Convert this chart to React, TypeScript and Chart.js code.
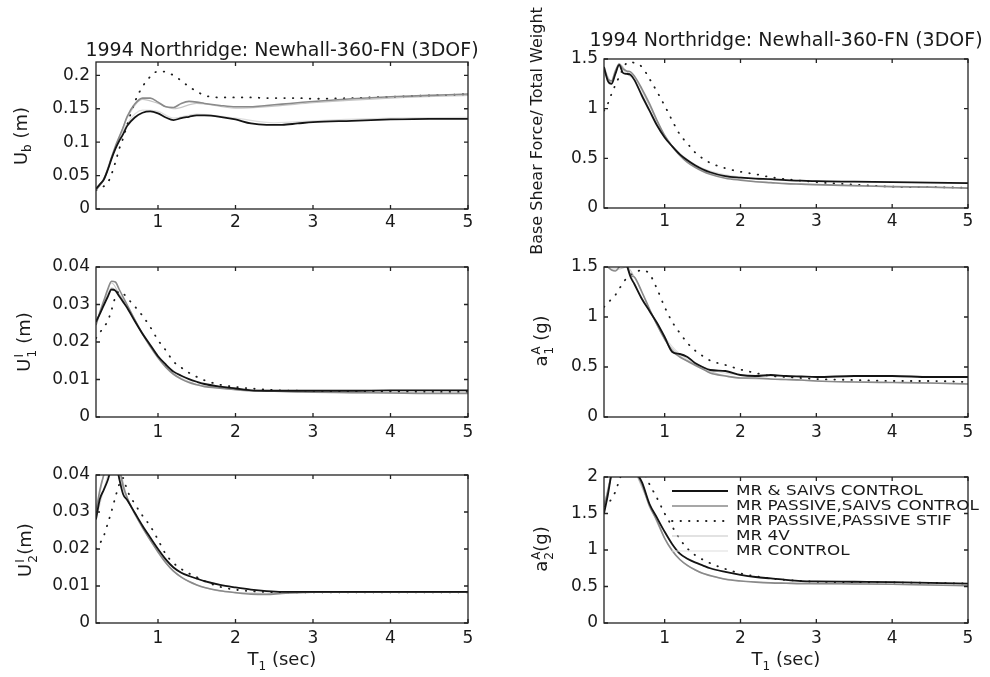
import React, { useEffect, useRef } from 'react';
import { Chart, registerables } from 'chart.js';
Chart.register(...registerables);

const FONT = "'DejaVu Sans', 'Liberation Sans', sans-serif";
const INK = '#1a1a1a';

// ---- data ----
const T = [0.2,0.25,0.3,0.35,0.4,0.45,0.5,0.55,0.6,0.7,0.8,0.9,1.0,1.1,1.2,1.3,1.4,1.5,1.6,1.8,2.0,2.2,2.4,2.6,2.8,3.0,3.5,4.0,4.5,5.0];
const T_LIGHT = [0.2,0.3,0.4,0.5,0.6,0.8,1.0,1.2,1.5,2.0,2.5,3.0,4.0,5.0];
const X_TICKS = [1, 2, 3, 4, 5];

const SERIES_LABELS = ['MR & SAIVS CONTROL', 'MR PASSIVE,SAIVS CONTROL', 'MR PASSIVE,PASSIVE STIF', 'MR 4V', 'MR CONTROL'];

// Ub (m)
const ubBlack = [0.030,0.037,0.044,0.058,0.075,0.090,0.102,0.112,0.124,0.137,0.144,0.146,0.143,0.137,0.133,0.136,0.138,0.140,0.140,0.138,0.134,0.128,0.126,0.126,0.128,0.130,0.132,0.134,0.135,0.135];
const ubGray = [0.028,0.036,0.044,0.059,0.077,0.094,0.108,0.122,0.138,0.157,0.166,0.166,0.160,0.153,0.152,0.158,0.161,0.160,0.158,0.155,0.153,0.153,0.155,0.157,0.159,0.161,0.165,0.168,0.170,0.172];
const ubDotted = [0.028,0.031,0.034,0.039,0.052,0.070,0.090,0.106,0.125,0.160,0.183,0.198,0.206,0.205,0.200,0.192,0.183,0.176,0.170,0.167,0.167,0.167,0.166,0.166,0.166,0.165,0.166,0.168,0.170,0.172];
const ub4V = [0.029,0.043,0.076,0.107,0.136,0.164,0.158,0.150,0.158,0.151,0.154,0.159,0.166,0.170];
const ubCtrl = [0.031,0.046,0.078,0.104,0.128,0.148,0.146,0.136,0.142,0.136,0.129,0.132,0.136,0.137];

// Base shear / total weight
const vbBlack = [1.42,1.28,1.25,1.35,1.44,1.36,1.35,1.34,1.29,1.13,0.98,0.83,0.71,0.62,0.54,0.48,0.43,0.39,0.36,0.32,0.305,0.295,0.29,0.28,0.275,0.27,0.265,0.26,0.255,0.25];
const vbGray = [1.40,1.30,1.28,1.38,1.45,1.40,1.38,1.37,1.33,1.20,1.05,0.88,0.73,0.62,0.53,0.46,0.41,0.37,0.34,0.30,0.28,0.265,0.255,0.245,0.24,0.235,0.225,0.215,0.21,0.20];
const vbDotted = [0.98,1.05,1.15,1.24,1.32,1.40,1.46,1.47,1.46,1.42,1.30,1.17,1.03,0.88,0.74,0.65,0.56,0.50,0.455,0.40,0.365,0.34,0.31,0.29,0.275,0.26,0.235,0.215,0.21,0.205];
const vb4V = [1.40,1.27,1.45,1.37,1.32,1.03,0.73,0.54,0.38,0.285,0.25,0.235,0.215,0.20];
const vbCtrl = [1.43,1.26,1.43,1.35,1.29,0.99,0.72,0.55,0.40,0.31,0.28,0.27,0.26,0.25];

// U1 (m)
const u1Black = [0.0254,0.0275,0.0298,0.0320,0.0340,0.0337,0.0322,0.0307,0.0292,0.0256,0.0222,0.0192,0.0162,0.0140,0.0121,0.0110,0.0101,0.0094,0.0088,0.0081,0.0076,0.0071,0.0070,0.0070,0.0070,0.0070,0.0070,0.0071,0.0071,0.0071];
const u1Gray = [0.0245,0.0280,0.0310,0.0340,0.0362,0.0360,0.0340,0.0320,0.0300,0.0260,0.0222,0.0188,0.0158,0.0133,0.0114,0.0101,0.0092,0.0086,0.0081,0.0077,0.0073,0.0070,0.0069,0.0068,0.0067,0.0066,0.0065,0.0064,0.0063,0.0063];
const u1Dotted = [0.0210,0.0225,0.0240,0.0255,0.0285,0.0320,0.0335,0.0330,0.0318,0.0295,0.0270,0.0240,0.0205,0.0178,0.0148,0.0132,0.0118,0.0107,0.0098,0.0086,0.0080,0.0076,0.0073,0.0071,0.0070,0.0069,0.0068,0.0068,0.0067,0.0067];
const u14V = [0.0248,0.0305,0.0358,0.0328,0.0298,0.0220,0.0160,0.0116,0.0087,0.0074,0.0069,0.0066,0.0064,0.0063];
const u1Ctrl = [0.0256,0.0300,0.0345,0.0325,0.0295,0.0225,0.0164,0.0123,0.0095,0.0077,0.0071,0.0071,0.0071,0.0071];

// a1 (g)
const a1Black = [1.60,1.75,1.85,1.80,1.72,1.62,1.52,1.40,1.33,1.18,1.06,0.94,0.80,0.65,0.63,0.60,0.54,0.50,0.47,0.46,0.42,0.41,0.42,0.41,0.405,0.40,0.41,0.41,0.40,0.40];
const a1Gray = [1.55,1.50,1.47,1.46,1.50,1.55,1.52,1.42,1.40,1.25,1.08,0.92,0.78,0.66,0.60,0.56,0.52,0.48,0.44,0.41,0.39,0.39,0.38,0.375,0.37,0.36,0.35,0.345,0.34,0.33];
const a1Dotted = [1.10,1.14,1.18,1.22,1.28,1.34,1.39,1.42,1.44,1.47,1.43,1.28,1.10,0.95,0.84,0.74,0.665,0.61,0.565,0.52,0.475,0.44,0.41,0.40,0.39,0.38,0.37,0.36,0.36,0.35];
const a14V = [1.55,1.48,1.48,1.50,1.40,1.08,0.78,0.61,0.48,0.39,0.375,0.36,0.345,0.33];
const a1Ctrl = [1.60,1.83,1.73,1.52,1.34,1.06,0.80,0.63,0.50,0.42,0.41,0.40,0.41,0.40];

// U2 (m)
const u2Black = [0.0280,0.0335,0.0360,0.0385,0.0420,0.0445,0.0390,0.0348,0.0333,0.0298,0.0263,0.0231,0.0200,0.0172,0.0150,0.0136,0.0127,0.0120,0.0113,0.0103,0.0096,0.0090,0.0086,0.0084,0.0084,0.0084,0.0084,0.0084,0.0084,0.0084];
const u2Gray = [0.0300,0.0360,0.0400,0.0430,0.0460,0.0460,0.0420,0.0370,0.0340,0.0296,0.0258,0.0224,0.0192,0.0163,0.0140,0.0124,0.0112,0.0103,0.0096,0.0087,0.0082,0.0078,0.0077,0.0080,0.0082,0.0083,0.0083,0.0083,0.0083,0.0083];
const u2Dotted = [0.0200,0.0215,0.0235,0.0268,0.0302,0.0340,0.0375,0.0392,0.0360,0.0322,0.0290,0.0262,0.0225,0.0186,0.0162,0.0146,0.0134,0.0124,0.0113,0.0098,0.0090,0.0086,0.0084,0.0083,0.0083,0.0083,0.0083,0.0083,0.0083,0.0083];
const u24V = [0.030,0.040,0.046,0.042,0.034,0.0258,0.0192,0.0140,0.0103,0.0082,0.0080,0.0083,0.0083,0.0083];
const u2Ctrl = [0.028,0.036,0.042,0.039,0.0335,0.0263,0.0200,0.0150,0.0120,0.0096,0.0085,0.0084,0.0084,0.0084];

// a2 (g)
const a2Black = [1.50,1.75,2.05,2.25,2.40,2.40,2.30,2.20,2.10,1.93,1.63,1.44,1.25,1.08,0.95,0.88,0.83,0.79,0.75,0.70,0.66,0.63,0.61,0.59,0.575,0.57,0.565,0.56,0.55,0.54];
const a2Gray = [1.60,1.80,2.05,2.25,2.40,2.40,2.30,2.20,2.10,1.90,1.60,1.40,1.16,0.99,0.87,0.79,0.73,0.68,0.65,0.60,0.575,0.56,0.55,0.545,0.54,0.54,0.535,0.53,0.52,0.51];
const a2Dotted = [1.60,1.64,1.70,1.80,1.95,2.10,2.25,2.30,2.25,2.12,1.90,1.71,1.50,1.32,1.15,1.02,0.93,0.87,0.82,0.74,0.68,0.64,0.61,0.59,0.575,0.565,0.56,0.555,0.55,0.54];
const a24V = [1.60,2.05,2.40,2.30,2.10,1.62,1.16,0.87,0.68,0.575,0.55,0.54,0.53,0.51];
const a2Ctrl = [1.50,2.05,2.40,2.30,2.10,1.63,1.25,0.95,0.79,0.66,0.60,0.57,0.56,0.54];

const UB_TICKS = [0, 0.05, 0.1, 0.15, 0.2];
const VB_TICKS = [0, 0.5, 1, 1.5];
const U_TICKS = [0, 0.01, 0.02, 0.03, 0.04];
const A1_TICKS = [0, 0.5, 1, 1.5];
const A2_TICKS = [0, 0.5, 1, 1.5, 2];

const TITLE = '1994 Northridge: Newhall-360-FN (3DOF)';

// ---- styles ----
const STYLES = [
  { color: '#141414', width: 1.8, dash: [] as number[], cap: 'butt' },
  { color: '#8a8a8a', width: 1.6, dash: [] as number[], cap: 'butt' },
  { color: '#1e1e1e', width: 1.8, dash: [0.5, 8], cap: 'round' },
  { color: '#c6c6c6', width: 1.2, dash: [] as number[], cap: 'butt' },
  { color: '#dddddd', width: 1.2, dash: [] as number[], cap: 'butt' },
];

type PanelDef = {
  box: [number, number, number, number];
  area: [number, number, number, number];
  yMax: number;
  yTicks: number[];
  series: number[][];
  tickPad: number;
  legend?: boolean;
};

const PANELS: PanelDef[] = [
  { box: [0, 0, 490, 240], area: [96, 62, 468, 209], yMax: 0.22, yTicks: UB_TICKS, series: [ubBlack, ubGray, ubDotted, ub4V, ubCtrl], tickPad: 3 },
  { box: [490, 0, 500, 266], area: [604, 59, 968, 208], yMax: 1.5, yTicks: VB_TICKS, series: [vbBlack, vbGray, vbDotted, vb4V, vbCtrl], tickPad: 3 },
  { box: [0, 240, 490, 205], area: [96, 267, 468, 417], yMax: 0.04, yTicks: U_TICKS, series: [u1Black, u1Gray, u1Dotted, u14V, u1Ctrl], tickPad: 5 },
  { box: [490, 240, 500, 205], area: [604, 267, 968, 417], yMax: 1.5, yTicks: A1_TICKS, series: [a1Black, a1Gray, a1Dotted, a14V, a1Ctrl], tickPad: 5 },
  { box: [0, 445, 490, 232], area: [96, 475, 468, 623], yMax: 0.04, yTicks: U_TICKS, series: [u2Black, u2Gray, u2Dotted, u24V, u2Ctrl], tickPad: 5 },
  { box: [490, 445, 500, 232], area: [604, 477, 968, 623], yMax: 2, yTicks: A2_TICKS, series: [a2Black, a2Gray, a2Dotted, a24V, a2Ctrl], tickPad: 5, legend: true },
];

const boxPlugin = {
  id: 'matlabBox',
  afterDatasetsDraw(chart: any) {
    const { ctx, chartArea: a, scales } = chart;
    ctx.save();
    ctx.strokeStyle = '#222';
    ctx.lineWidth = 1.3;
    ctx.setLineDash([]);
    ctx.strokeRect(a.left, a.top, a.right - a.left, a.bottom - a.top);
    const L = 4;
    ctx.beginPath();
    scales.x.ticks.forEach((t: any) => {
      const px = scales.x.getPixelForValue(t.value);
      ctx.moveTo(px, a.bottom); ctx.lineTo(px, a.bottom - L);
      ctx.moveTo(px, a.top); ctx.lineTo(px, a.top + L);
    });
    scales.y.ticks.forEach((t: any) => {
      const py = scales.y.getPixelForValue(t.value);
      ctx.moveTo(a.left, py); ctx.lineTo(a.left + L, py);
      ctx.moveTo(a.right, py); ctx.lineTo(a.right - L, py);
    });
    ctx.stroke();
    ctx.restore();
  },
};

const legendPlugin = {
  id: 'matlabLegend',
  afterDatasetsDraw(chart: any) {
    const { ctx, chartArea: a } = chart;
    ctx.save();
    ctx.font = `14px ${FONT}`;
    ctx.textBaseline = 'middle';
    ctx.textAlign = 'left';
    chart.data.datasets.forEach((ds: any, i: number) => {
      const y = a.top + 14 + i * 15;
      ctx.strokeStyle = ds.borderColor;
      ctx.lineWidth = ds.borderWidth;
      ctx.setLineDash(ds.borderDash || []);
      ctx.lineCap = ds.borderCapStyle || 'butt';
      ctx.beginPath();
      ctx.moveTo(a.left + 68, y);
      ctx.lineTo(a.left + 124, y);
      ctx.stroke();
      ctx.fillStyle = INK;
      ctx.save();
      ctx.translate(a.left + 132, y);
      ctx.scale(1.2, 1);
      ctx.fillText(ds.label, 0, 0);
      ctx.restore();
    });
    ctx.restore();
  },
};

function Panel({ def }: { def: PanelDef }) {
  const ref = useRef<HTMLCanvasElement | null>(null);
  useEffect(() => {
    if (!ref.current) return;
    const [bl, bt, bw, bh] = def.box;
    const [al, at, ar, ab] = def.area;
    const datasets = def.series.map((vals, i) => {
      const xs = i < 3 ? T : T_LIGHT;
      const st = STYLES[i];
      return {
        label: SERIES_LABELS[i],
        data: vals.map((v, k) => ({ x: xs[k], y: v })),
        borderColor: st.color,
        borderWidth: st.width,
        borderDash: st.dash,
        borderCapStyle: st.cap,
        pointRadius: 0,
        fill: false,
        cubicInterpolationMode: 'monotone',
      };
    });
    const tickFont = { family: FONT, size: 17 };
    const chart = new Chart(ref.current, {
      type: 'line',
      data: { datasets } as any,
      plugins: def.legend ? [boxPlugin, legendPlugin] : [boxPlugin],
      options: {
        animation: false,
        responsive: false,
        devicePixelRatio: 1,
        events: [],
        layout: { padding: { left: 0, top: at - bt, right: bl + bw - ar, bottom: 0 } },
        plugins: { legend: { display: false }, tooltip: { enabled: false }, title: { display: false } },
        scales: {
          x: {
            type: 'linear',
            min: 0.2,
            max: 5,
            afterBuildTicks: (s: any) => { s.ticks = X_TICKS.map((v) => ({ value: v })); },
            afterFit: (s: any) => { s.height = bt + bh - ab; },
            grid: { display: false, drawTicks: false },
            border: { display: false },
            ticks: { font: tickFont, color: INK, padding: def.tickPad, maxRotation: 0, autoSkip: false, callback: (v: any) => String(v) },
          },
          y: {
            type: 'linear',
            min: 0,
            max: def.yMax,
            afterBuildTicks: (s: any) => { s.ticks = def.yTicks.map((v) => ({ value: v })); },
            afterFit: (s: any) => { s.width = al - bl; },
            grid: { display: false, drawTicks: false },
            border: { display: false },
            ticks: { font: tickFont, color: INK, padding: 6, autoSkip: false, callback: (v: any) => String(v) },
          },
        },
      } as any,
    });
    return () => chart.destroy();
  }, [def]);
  const [bl, bt, bw, bh] = def.box;
  return (
    <canvas
      ref={ref}
      width={bw}
      height={bh}
      style={{ position: 'absolute', left: bl, top: bt, width: bw, height: bh }}
    />
  );
}

const textBase: React.CSSProperties = {
  position: 'absolute',
  fontFamily: FONT,
  color: INK,
  whiteSpace: 'nowrap',
};

function VLabel({ cx, cy, size, children }: { cx: number; cy: number; size: number; children: React.ReactNode }) {
  return (
    <div
      style={{
        ...textBase,
        left: cx,
        top: cy,
        fontSize: size,
        lineHeight: '1.2',
        transform: 'translate(-50%, -50%) rotate(-90deg)',
      }}
    >
      {children}
    </div>
  );
}

function SupSub({ sup, sub }: { sup: string; sub: string }) {
  return (
    <span style={{ display: 'inline-block', position: 'relative', width: 9, height: '1em', verticalAlign: 'baseline' }}>
      <span style={{ position: 'absolute', left: 1, top: 0, fontSize: 12, lineHeight: '14px' }}>{sup}</span>
      <span style={{ position: 'absolute', left: 1, top: 13, fontSize: 12, lineHeight: '14px' }}>{sub}</span>
    </span>
  );
}

export default function App() {
  return (
    <div style={{ position: 'absolute', left: 0, top: 0, width: 990, height: 677, background: '#fff', overflow: 'hidden' }}>
      {PANELS.map((p, i) => (
        <Panel key={i} def={p} />
      ))}
      <div style={{ ...textBase, left: 32, top: 38, width: 500, textAlign: 'center', fontSize: 19, lineHeight: '22px' }}>{TITLE}</div>
      <div style={{ ...textBase, left: 536, top: 28, width: 500, textAlign: 'center', fontSize: 19, lineHeight: '22px' }}>{TITLE}</div>

      <VLabel cx={22} cy={136} size={18}>U<sub style={{ fontSize: 12 }}>b</sub> (m)</VLabel>
      <VLabel cx={537} cy={131} size={16}>Base Shear Force/ Total Weight</VLabel>
      <VLabel cx={23} cy={342} size={18}>U<SupSub sup="I" sub="1" /> (m)</VLabel>
      <VLabel cx={540} cy={341} size={18}>a<SupSub sup="A" sub="1" /> (g)</VLabel>
      <VLabel cx={24} cy={550} size={18}>U<SupSub sup="I" sub="2" />(m)</VLabel>
      <VLabel cx={540} cy={549} size={18}>a<SupSub sup="A" sub="2" />(g)</VLabel>

      <div style={{ ...textBase, left: 182, top: 648, width: 200, textAlign: 'center', fontSize: 18, lineHeight: '22px' }}>T<sub style={{ fontSize: 12 }}>1</sub> (sec)</div>
      <div style={{ ...textBase, left: 686, top: 648, width: 200, textAlign: 'center', fontSize: 18, lineHeight: '22px' }}>T<sub style={{ fontSize: 12 }}>1</sub> (sec)</div>
    </div>
  );
}
